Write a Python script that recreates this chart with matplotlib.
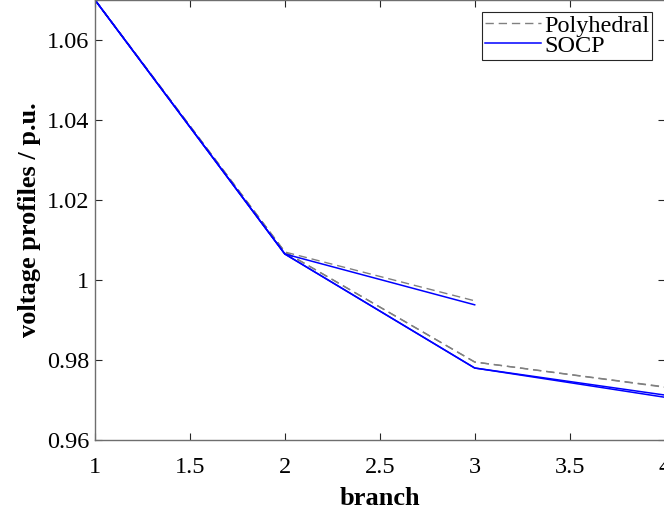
import matplotlib.pyplot as plt
import matplotlib

plt.rcParams['font.family'] = 'serif'
plt.rcParams['font.serif'] = ['Liberation Serif']
plt.rcParams['font.size'] = 17.5

# each path through the feeder, as (branch, voltage) lists
poly_x = [[1, 2, 3], [1, 2, 3, 4], [1, 2, 3, 4]]
poly_v = [[1.07, 1.0070, 0.9948], [1.07, 1.0070, 0.9795, 0.9733], [1.07, 1.0070, 0.9795, 0.9732]]
socp_x = [[1, 2, 3], [1, 2, 3, 4], [1, 2, 3, 4]]
socp_v = [[1.07, 1.0065, 0.9938], [1.07, 1.0065, 0.9780, 0.97125], [1.07, 1.0065, 0.9780, 0.9707]]

xticks = [1, 1.5, 2, 2.5, 3, 3.5, 4]
xtick_labels = ['1', '1.5', '2', '2.5', '3', '3.5', '4']
yticks = [0.96, 0.98, 1.0, 1.02, 1.04, 1.06]
ytick_labels = ['0.96', '0.98', '1', '1.02', '1.04', '1.06']

fig = plt.figure(figsize=(6.64, 5.15), dpi=100)
ax = fig.add_axes([0.1431, 0.1456, 0.8577, 0.8544])

for i in range(len(poly_x)):
    ax.plot(poly_x[i], poly_v[i], '--', color=(0.5, 0.5, 0.5), lw=1.0,
            dashes=(6, 3.5), label='Polyhedral' if i == 0 else None)
for i in range(len(socp_x)):
    ax.plot(socp_x[i], socp_v[i], '-', color='#0000ff', lw=1.1,
            label='SOCP' if i == 0 else None)

ax.set_xlim(1, 4)
ax.set_ylim(0.96, 1.07)
ax.set_xticks(xticks)
ax.set_xticklabels(xtick_labels)
ax.set_yticks(yticks)
ax.set_yticklabels(ytick_labels)
ax.tick_params(direction='in', top=True, right=True, length=5, width=0.8,
               color='#262626', labelsize=17.5)
ax.tick_params(axis='x', pad=12)
ax.tick_params(axis='y', pad=4)
for s in ax.spines.values():
    s.set_color('#6e6e6e')
    s.set_linewidth(1.0)

ax.set_xlabel('branch', fontweight='bold', fontsize=19, labelpad=7)
ax.set_ylabel('voltage profiles / p.u.', fontweight='bold', fontsize=19, labelpad=4)

leg = ax.legend(loc='upper right', bbox_to_anchor=(652 / 664, 1 - 12 / 515),
                bbox_transform=fig.transFigure, fancybox=False, framealpha=1,
                edgecolor='#262626', handlelength=2.3, borderpad=0.12,
                labelspacing=-0.08, handletextpad=0.12, borderaxespad=0,
                fontsize=17.5)
leg.get_frame().set_linewidth(0.8)

fig.savefig('out.png', dpi=100)
